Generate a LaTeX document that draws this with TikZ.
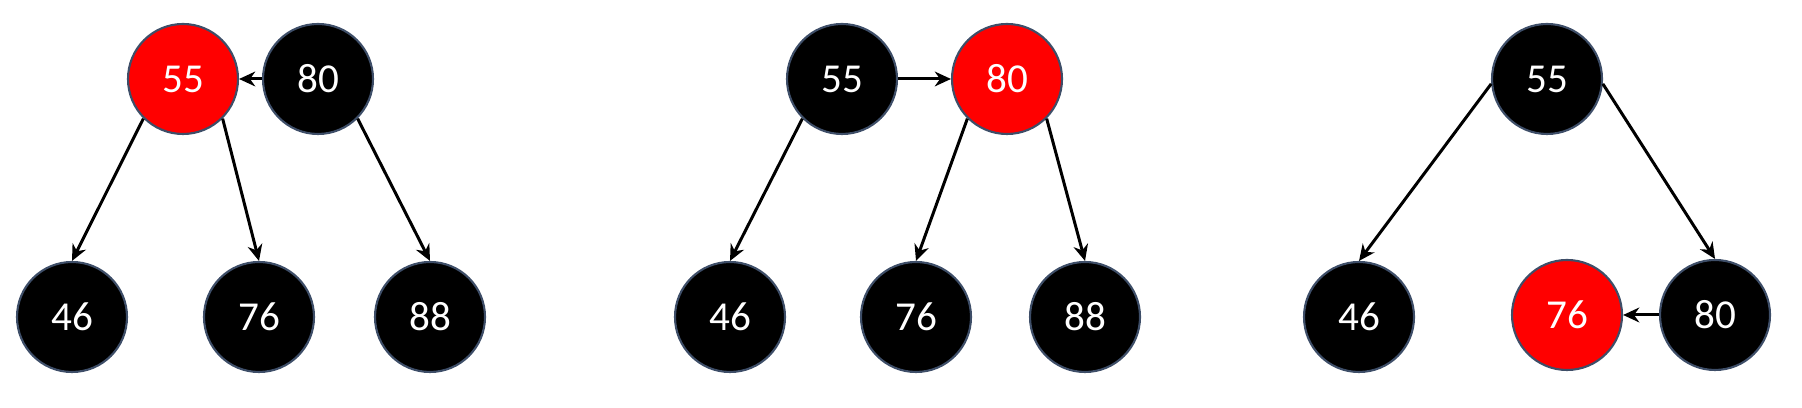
\documentclass[tikz,border=0pt]{standalone}
\usepackage{fontspec}
\setmainfont{Carlito}
\usetikzlibrary{arrows.meta}
\definecolor{rim}{RGB}{62,78,104}
\definecolor{hot}{RGB}{255,0,0}
\tikzset{
  bnode/.style = {circle, draw = rim, line width = 0.6pt, fill = black, text = white,
                  minimum size = 1.1cm, inner sep = 0pt, font = \fontsize{11.7}{14}\selectfont},
  rnode/.style = {bnode, fill = hot},
  link/.style  = {->, line width = 0.85pt},
  >={Stealth[length = 4.6pt, width = 4.2pt]}
}
\begin{document}
\begin{tikzpicture}
\useasboundingbox (0,0) rectangle (18.02,4.08);
% first tree
\node (a55) [rnode] at (1.83, 3.29) {55};
\node (a80) [bnode] at (3.18, 3.29) {80};
\node (a46) [bnode] at (0.72, 0.91) {46};
\node (a76) [bnode] at (2.59, 0.91) {76};
\node (a88) [bnode] at (4.30, 0.91) {88};
\draw [link] (a80) -- (a55);
\draw [link] (a55.-135) -- (a46.north);
\draw [link] (a55.-45) -- (a76.north);
\draw [link] (a80.-45) -- (a88.north);
% second tree
\node (b55) [bnode] at (8.42, 3.29) {55};
\node (b80) [rnode] at (10.07, 3.29) {80};
\node (b46) [bnode] at (7.30, 0.91) {46};
\node (b76) [bnode] at (9.16, 0.91) {76};
\node (b88) [bnode] at (10.85, 0.91) {88};
\draw [link] (b55) -- (b80);
\draw [link] (b55.-135) -- (b46.north);
\draw [link] (b80.-135) -- (b76.north);
\draw [link] (b80.-45) -- (b88.north);
% third tree
\node (c55) [bnode] at (15.47, 3.29) {55};
\node (c46) [bnode] at (13.59, 0.91) {46};
\node (c76) [rnode] at (15.67, 0.93) {76};
\node (c80) [bnode] at (17.15, 0.93) {80};
\draw [link] (c80) -- (c76);
\draw [link] (c55.185) -- (c46.north);
\draw [link] (c55.-5) -- (c80.north);
\end{tikzpicture}
\end{document}
